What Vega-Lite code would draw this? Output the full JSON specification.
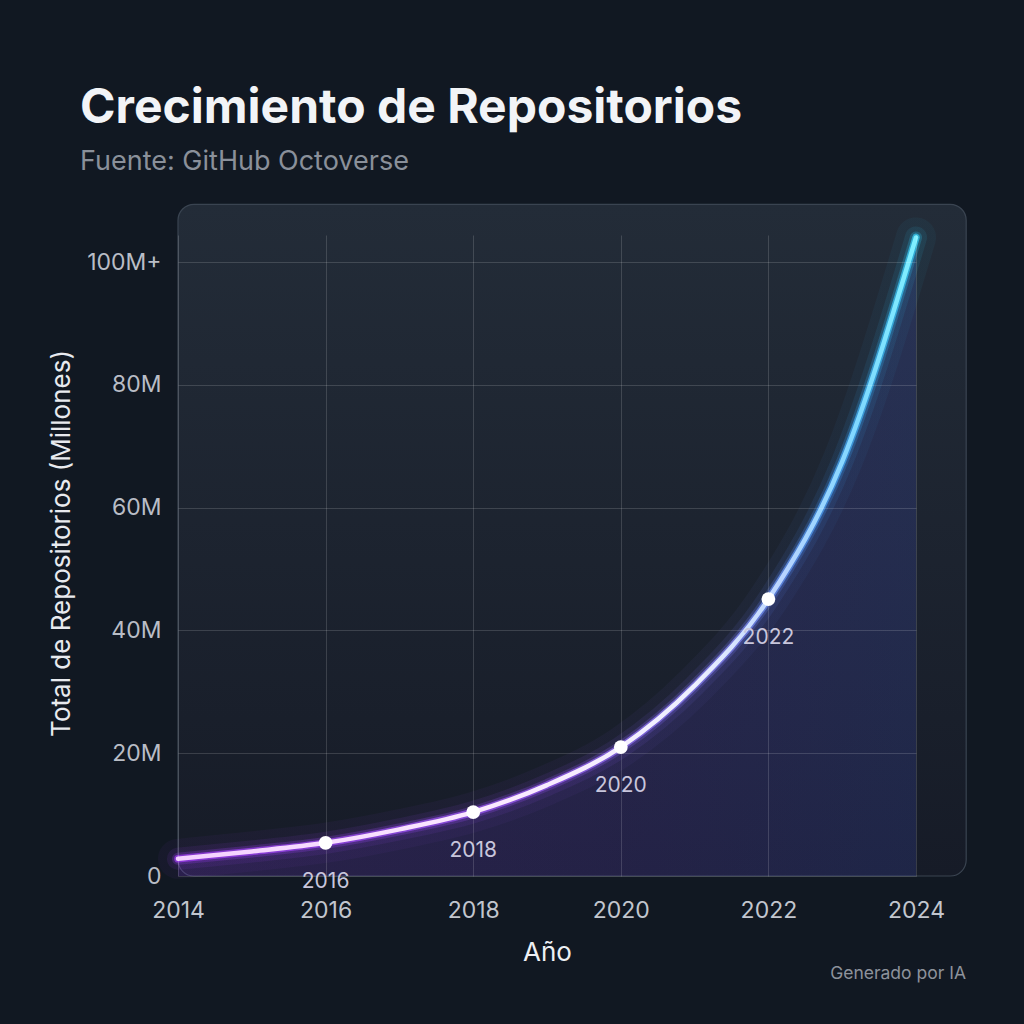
{
  "$schema": "https://vega.github.io/schema/vega-lite/v6.json",
  "width": 738,
  "height": 641,
  "autosize": {"type": "none"},
  "padding": {"left": 178, "top": 235, "right": 108, "bottom": 148},
  "background": "#111822",
  "title": {
    "text": "Crecimiento de Repositorios",
    "subtitle": "Fuente: GitHub Octoverse",
    "anchor": "start",
    "frame": "group",
    "dx": -98,
    "dy": 38,
    "offset": 20,
    "font": "Inter",
    "fontSize": 48,
    "fontWeight": "bold",
    "color": "#f2f4f7",
    "subtitleFont": "Inter",
    "subtitleFontSize": 27,
    "subtitleColor": "#8a909a",
    "subtitlePadding": 16
  },
  "data": {
    "values": [
      {"anio": 2014, "repos": 2.8, "hito": false},
      {"anio": 2015, "repos": 4.0, "hito": false},
      {"anio": 2016, "repos": 5.4, "hito": true},
      {"anio": 2017, "repos": 7.6, "hito": false},
      {"anio": 2018, "repos": 10.4, "hito": true},
      {"anio": 2019, "repos": 14.8, "hito": false},
      {"anio": 2020, "repos": 21.0, "hito": true},
      {"anio": 2021, "repos": 31.0, "hito": false},
      {"anio": 2022, "repos": 45.1, "hito": true},
      {"anio": 2023, "repos": 67.5, "hito": false},
      {"anio": 2024, "repos": 104.0, "hito": false}
    ]
  },
  "layer": [
    {
      "data": {"values": [{"panel": "fondo"}]},
      "mark": {
        "type": "rect",
        "cornerRadius": 16,
        "fill": {
          "gradient": "linear",
          "x1": 0, "y1": 0, "x2": 0, "y2": 1,
          "stops": [
            {"offset": 0, "color": "#232c38"},
            {"offset": 1, "color": "#161b27"}
          ]
        },
        "stroke": "#3a4451",
        "strokeWidth": 1.2
      },
      "encoding": {
        "x": {
          "datum": 2014,
          "type": "quantitative",
          "scale": {"domain": [2014, 2024], "nice": false, "zero": false},
          "axis": {
            "zindex": 1,
            "values": [2014, 2016, 2018, 2020, 2022, 2024],
            "format": "d",
            "title": "Año",
            "grid": true,
            "gridColor": "#ffffff",
            "gridOpacity": 0.15,
            "gridWidth": 1,
            "domain": false,
            "ticks": false,
            "labelFlush": false,
            "labelFont": "Inter",
            "labelFontSize": 23,
            "labelColor": "#c2c6ce",
            "labelPadding": 23,
            "titleFont": "Inter",
            "titleFontSize": 26,
            "titleFontWeight": "normal",
            "titleColor": "#eef0f4",
            "titlePadding": 17
          }
        },
        "x2": {"datum": 2024.68},
        "y": {
          "datum": 0,
          "type": "quantitative",
          "scale": {"domain": [0, 104.4], "nice": false},
          "axis": {
            "zindex": 1,
            "values": [0, 20, 40, 60, 80, 100],
            "labelExpr": "datum.value == 0 ? '0' : (datum.value == 100 ? '100M+' : datum.value + 'M')",
            "title": "Total de Repositorios (Millones)",
            "grid": true,
            "gridColor": "#ffffff",
            "gridOpacity": 0.15,
            "gridWidth": 1,
            "domain": false,
            "ticks": false,
            "labelFlush": false,
            "labelFont": "Inter",
            "labelFontSize": 23,
            "labelColor": "#b9bdc6",
            "labelPadding": 17,
            "titleFont": "Inter",
            "titleFontSize": 26,
            "titleFontWeight": "normal",
            "titleColor": "#e8eaef",
            "titlePadding": 12,
            "titleY": 308
          }
        },
        "y2": {"datum": 109.4}
      }
    },
    {
      "mark": {
        "type": "area",
        "interpolate": "monotone",
        "fill": {
          "gradient": "linear",
          "x1": 0, "y1": 0, "x2": 1, "y2": 0,
          "stops": [
            {"offset": 0, "color": "#8b3dff"},
            {"offset": 0.6, "color": "#6b45e8"},
            {"offset": 1, "color": "#4b5ef0"}
          ]
        },
        "opacity": 0.16
      },
      "encoding": {
        "x": {"field": "anio", "type": "quantitative"},
        "y": {"field": "repos", "type": "quantitative"}
      }
    },
    {
      "mark": {
        "type": "line",
        "interpolate": "monotone",
        "strokeWidth": 40,
        "strokeCap": "round",
        "opacity": 0.045,
        "stroke": {
          "gradient": "linear",
          "x1": 0, "y1": 0, "x2": 1, "y2": 0,
          "stops": [
            {"offset": 0, "color": "#a23cff"},
            {"offset": 0.5, "color": "#9a50ff"},
            {"offset": 0.75, "color": "#7a7cff"},
            {"offset": 0.88, "color": "#3d9bff"},
            {"offset": 1, "color": "#2ad0ff"}
          ]
        }
      },
      "encoding": {
        "x": {"field": "anio", "type": "quantitative"},
        "y": {"field": "repos", "type": "quantitative"}
      }
    },
    {
      "mark": {
        "type": "line",
        "interpolate": "monotone",
        "strokeWidth": 22,
        "strokeCap": "round",
        "opacity": 0.09,
        "stroke": {
          "gradient": "linear",
          "x1": 0, "y1": 0, "x2": 1, "y2": 0,
          "stops": [
            {"offset": 0, "color": "#a23cff"},
            {"offset": 0.5, "color": "#9a50ff"},
            {"offset": 0.75, "color": "#7a7cff"},
            {"offset": 0.88, "color": "#3d9bff"},
            {"offset": 1, "color": "#2ad0ff"}
          ]
        }
      },
      "encoding": {
        "x": {"field": "anio", "type": "quantitative"},
        "y": {"field": "repos", "type": "quantitative"}
      }
    },
    {
      "mark": {
        "type": "line",
        "interpolate": "monotone",
        "strokeWidth": 12,
        "strokeCap": "round",
        "opacity": 0.22,
        "stroke": {
          "gradient": "linear",
          "x1": 0, "y1": 0, "x2": 1, "y2": 0,
          "stops": [
            {"offset": 0, "color": "#a23cff"},
            {"offset": 0.5, "color": "#9a50ff"},
            {"offset": 0.75, "color": "#7a7cff"},
            {"offset": 0.88, "color": "#3d9bff"},
            {"offset": 1, "color": "#2ad0ff"}
          ]
        }
      },
      "encoding": {
        "x": {"field": "anio", "type": "quantitative"},
        "y": {"field": "repos", "type": "quantitative"}
      }
    },
    {
      "mark": {
        "type": "line",
        "interpolate": "monotone",
        "strokeWidth": 7.5,
        "strokeCap": "round",
        "opacity": 0.65,
        "stroke": {
          "gradient": "linear",
          "x1": 0, "y1": 0, "x2": 1, "y2": 0,
          "stops": [
            {"offset": 0, "color": "#a83cff"},
            {"offset": 0.5, "color": "#a060ff"},
            {"offset": 0.75, "color": "#8a8cff"},
            {"offset": 0.88, "color": "#4aa6ff"},
            {"offset": 1, "color": "#36d6ff"}
          ]
        }
      },
      "encoding": {
        "x": {"field": "anio", "type": "quantitative"},
        "y": {"field": "repos", "type": "quantitative"}
      }
    },
    {
      "mark": {
        "type": "line",
        "interpolate": "monotone",
        "strokeWidth": 4.5,
        "strokeCap": "round",
        "stroke": {
          "gradient": "linear",
          "x1": 0, "y1": 0, "x2": 1, "y2": 0,
          "stops": [
            {"offset": 0, "color": "#f4d0ff"},
            {"offset": 0.45, "color": "#fbeaff"},
            {"offset": 0.7, "color": "#eef0ff"},
            {"offset": 0.82, "color": "#b8d4ff"},
            {"offset": 0.92, "color": "#7fd8ff"},
            {"offset": 1, "color": "#7ff0ff"}
          ]
        }
      },
      "encoding": {
        "x": {"field": "anio", "type": "quantitative"},
        "y": {"field": "repos", "type": "quantitative"}
      }
    },
    {
      "transform": [{"filter": "datum.hito"}],
      "mark": {"type": "circle", "size": 190, "color": "#ffffff", "opacity": 1},
      "encoding": {
        "x": {"field": "anio", "type": "quantitative"},
        "y": {"field": "repos", "type": "quantitative"}
      }
    },
    {
      "transform": [{"filter": "datum.hito"}],
      "mark": {
        "type": "text",
        "dy": 39,
        "font": "Inter",
        "fontSize": 21,
        "color": "#c8c6dc",
        "align": "center",
        "baseline": "middle"
      },
      "encoding": {
        "x": {"field": "anio", "type": "quantitative"},
        "y": {"field": "repos", "type": "quantitative"},
        "text": {"field": "anio", "type": "nominal"}
      }
    },
    {
      "data": {"values": [{"nota": "Generado por IA"}]},
      "mark": {
        "type": "text",
        "dx": 50,
        "dy": 103,
        "font": "Inter",
        "fontSize": 17.5,
        "color": "#8d929b",
        "align": "right",
        "baseline": "alphabetic"
      },
      "encoding": {
        "x": {"datum": 2024, "type": "quantitative"},
        "y": {"datum": 0, "type": "quantitative"},
        "text": {"field": "nota", "type": "nominal"}
      }
    }
  ],
  "config": {
    "view": {"stroke": null}
  }
}
